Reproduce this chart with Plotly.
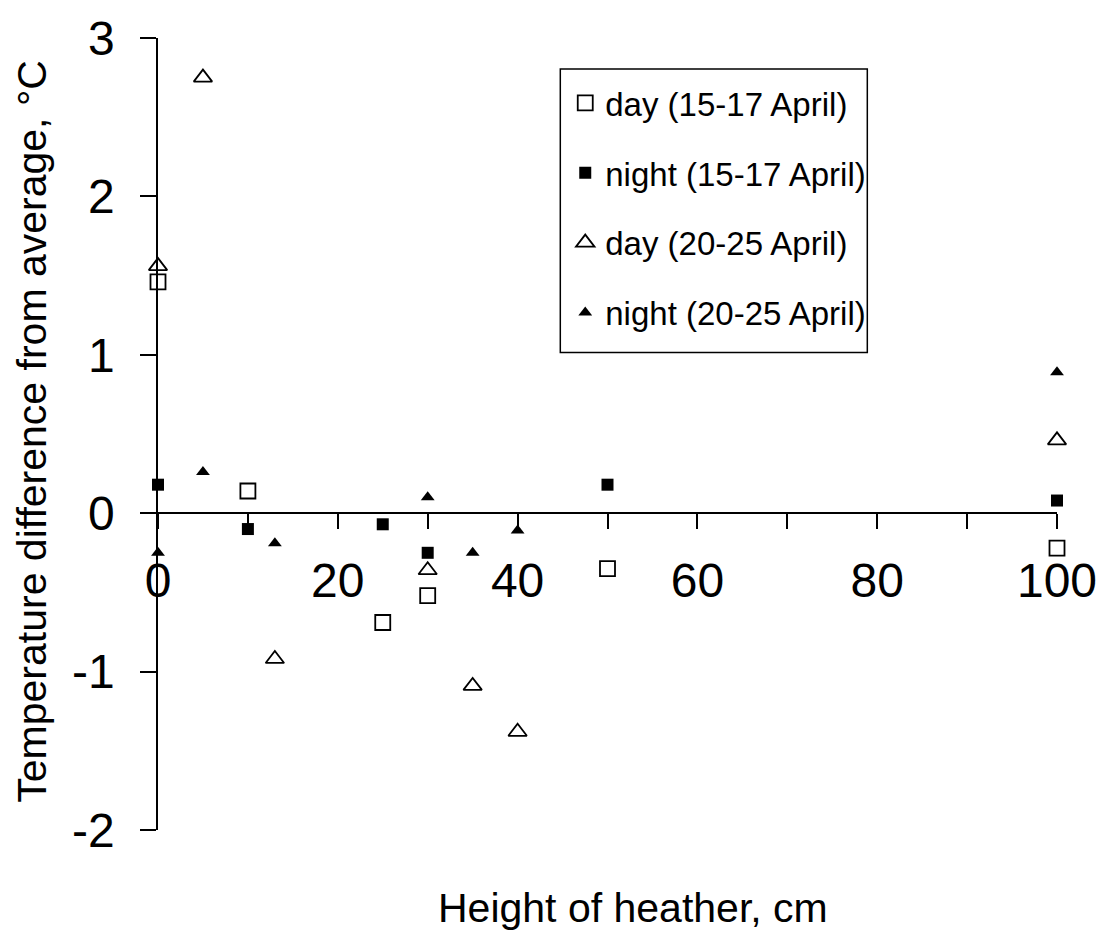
import plotly.graph_objects as go

# Heights of heather (cm) and temperature differences (°C)
day1_x = [0, 10, 25, 30, 50, 100]
day1_y = [1.46, 0.14, -0.69, -0.52, -0.35, -0.22]

night1_x = [0, 10, 25, 30, 50, 100]
night1_y = [0.18, -0.10, -0.07, -0.25, 0.18, 0.08]

day2_x = [0, 5, 13, 30, 35, 40, 100]
day2_y = [1.56, 2.75, -0.92, -0.36, -1.09, -1.38, 0.46]

night2_x = [0, 5, 13, 30, 35, 40, 100]
night2_y = [-0.25, 0.26, -0.19, 0.10, -0.25, -0.11, 0.89]

names = ["day (15-17 April)", "night (15-17 April)",
         "day (20-25 April)", "night (20-25 April)"]

x_tickvals = [0, 10, 20, 30, 40, 50, 60, 70, 80, 90, 100]
x_ticktext = ["0", "", "20", "", "40", "", "60", "", "80", "", "100"]
y_tickvals = [-2, -1, 0, 1, 2, 3]
y_ticktext = ["-2", "-1", "0", "1", "2", "3"]

FONT = "Liberation Sans, Arial, sans-serif"

fig = go.Figure()
fig.add_trace(go.Scatter(x=day1_x, y=day1_y, mode="markers", name=names[0],
                         legendgroup="a", cliponaxis=False,
                         marker=dict(symbol="square-open", size=15, color="black",
                                     line=dict(width=1.8, color="black"))))
fig.add_trace(go.Scatter(x=night1_x, y=night1_y, mode="markers", name=names[1],
                         legendgroup="b", cliponaxis=False,
                         marker=dict(symbol="square", size=12, color="black")))
fig.add_trace(go.Scatter(x=day2_x, y=day2_y, mode="markers", name=names[2],
                         legendgroup="c", cliponaxis=False,
                         marker=dict(symbol="triangle-up-open", size=16, color="black",
                                     line=dict(width=1.8, color="black"))))
fig.add_trace(go.Scatter(x=night2_x, y=night2_y, mode="markers", name=names[3],
                         legendgroup="d", cliponaxis=False,
                         marker=dict(symbol="triangle-up", size=12, color="black")))

fig.update_layout(
    width=1109, height=935,
    margin=dict(l=158, r=46, t=34, b=105),
    paper_bgcolor="white", plot_bgcolor="white",
    font=dict(family=FONT, color="black"),
    showlegend=True,
    legend=dict(x=0.453, y=0.9535, xanchor="left", yanchor="top",
                bgcolor="rgba(0,0,0,0)", borderwidth=0,
                font=dict(size=33, family=FONT, color="black"),
                tracegroupgap=24, itemwidth=30),
    shapes=[dict(type="rect", xref="paper", yref="paper",
                 x0=0.4475, x1=0.789, y0=0.603, y1=0.961,
                 line=dict(color="black", width=1.5), fillcolor="rgba(0,0,0,0)",
                 layer="below")],
    xaxis=dict(range=[0, 100], anchor="free", position=0.4,
               showgrid=False, zeroline=False, showline=True,
               linecolor="black", linewidth=1.5,
               ticks="outside", ticklen=15, tickwidth=1.5, tickcolor="black",
               tickvals=x_tickvals, ticktext=x_ticktext,
               ticklabelstandoff=10,
               tickfont=dict(size=48, family=FONT, color="black")),
    yaxis=dict(range=[-2, 3], domain=[0, 1],
               showgrid=False, zeroline=False, showline=True,
               linecolor="black", linewidth=1.5,
               ticks="outside", ticklen=16, tickwidth=1.5, tickcolor="black",
               tickvals=y_tickvals, ticktext=y_ticktext, ticklabelstandoff=16,
               tickfont=dict(size=48, family=FONT, color="black")),
    annotations=[
        dict(text="Height of heather, cm", xref="paper", yref="paper",
             x=0.528, y=-0.098, xanchor="center", yanchor="middle",
             showarrow=False, font=dict(size=41, family=FONT, color="black")),
        dict(text="Temperature difference from average, °C", xref="paper", yref="paper",
             x=-0.1403, y=0.504, xanchor="center", yanchor="middle", textangle=-90,
             showarrow=False, font=dict(size=41, family=FONT, color="black")),
    ],
)

fig.write_html("out.html")
